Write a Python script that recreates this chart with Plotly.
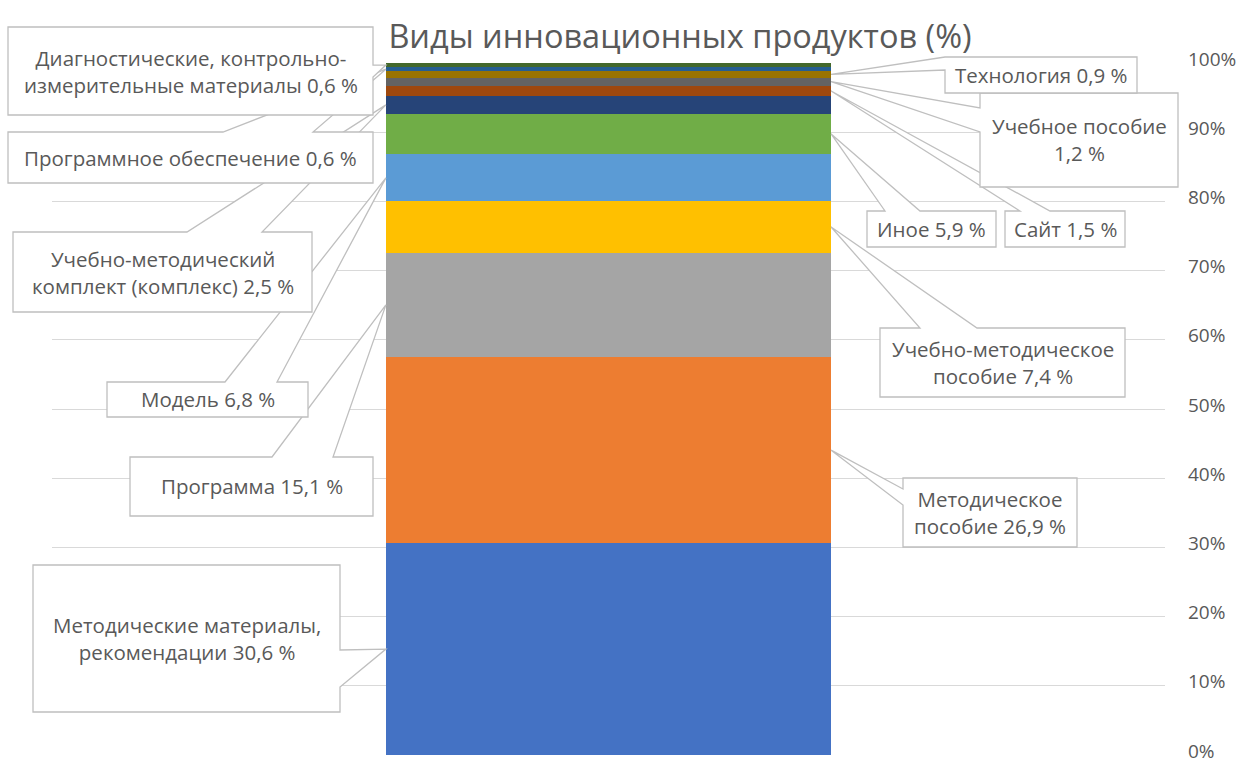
import plotly.graph_objects as go

# ---------------- data ----------------
CATEGORY = ["Виды инновационных продуктов"]
NAMES = [
    "Методические материалы, рекомендации",
    "Методическое пособие",
    "Программа",
    "Учебно-методическое пособие",
    "Модель",
    "Иное",
    "Учебно-методический комплект (комплекс)",
    "Сайт",
    "Учебное пособие",
    "Технология",
    "Программное обеспечение",
    "Диагностические, контрольно-измерительные материалы",
]
VALUES = [30.6, 26.9, 15.1, 7.4, 6.8, 5.9, 2.5, 1.5, 1.2, 0.9, 0.6, 0.6]
COLORS = ["#4472C4", "#ED7D31", "#A5A5A5", "#FFC000", "#5B9BD5", "#70AD47",
          "#264478", "#9E480E", "#636363", "#997300", "#255E91", "#43682B"]
LABEL_FORMATS = [
    "Методические материалы,<br>рекомендации {v}",
    "Методическое<br>пособие {v}",
    "Программа {v}",
    "Учебно-методическое<br>пособие {v}",
    "Модель {v}",
    "Иное {v}",
    "Учебно-методический<br>комплект (комплекс) {v}",
    "Сайт {v}",
    "Учебное пособие<br>{v}",
    "Технология {v}",
    "Программное обеспечение {v}",
    "Диагностические, контрольно-<br>измерительные материалы {v}",
]
TICK_VALS = [0, 10, 20, 30, 40, 50, 60, 70, 80, 90, 100]
TICK_TEXT = [f"{t}%" for t in TICK_VALS]
TITLE = "Виды инновационных продуктов (%)"

# ---------------- layout geometry (pixels) ----------------
W, H = 1245, 764
PL, PR, PT, PB = 52, 1165, 63, 755
BAR_W = 0.4
FONT = "Open Sans"
TXT = "#595959"
BORDER = "#BFBFBF"

# callout boxes: (x0, y0, x1, y1), edge carrying the wedge, base positions on that edge
CALLOUTS = [
    ((33, 565, 340, 712), "right", (650, 687)),
    ((903, 478, 1077, 547), "left", (489, 505)),
    ((130, 457, 373, 516), "top", (272, 333)),
    ((880, 328, 1125, 397), "top", (920, 977)),
    ((107, 382, 308, 417), "top", (225, 277)),
    ((867, 211, 996, 247), "top", (885, 920)),
    ((13, 232, 312, 312), "top", (187, 262)),
    ((1005, 211, 1125, 247), "top", (1020, 1050)),
    ((980, 93, 1178, 187), "left", (108, 132)),
    ((945, 57, 1137, 93), "left", (57, 70)),
    ((8, 132, 373, 183), "top", (223, 313)),
    ((8, 27, 373, 115), "right", (65, 77)),
]


def px(x, y):
    return ((x - PL) / (PR - PL), (PB - y) / (PB - PT))


def fmt(v):
    return f"{v:.1f}".replace(".", ",") + " %"


fig = go.Figure()
for name, val, col in zip(NAMES, VALUES, COLORS):
    fig.add_trace(go.Bar(x=CATEGORY, y=[val], name=name, marker=dict(color=col, line=dict(width=0)),
                         width=BAR_W, showlegend=False, hoverinfo="name+y"))

shapes = []
annotations = []
cum = 0.0
for i, val in enumerate(VALUES):
    mid = cum + val / 2.0
    cum += val
    (x0, y0, x1, y1), edge, (b0, b1) = CALLOUTS[i]
    box_cx = (x0 + x1) / 2
    bar_cx_px = PL + 0.5 * (PR - PL)
    tip_x = 0.5 - BAR_W / 2 if box_cx < bar_cx_px else 0.5 + BAR_W / 2
    tip_y = mid / 100.0
    tip = (tip_x, tip_y)

    pts = []
    pts.append(px(x0, y0))
    if edge == "top":
        pts += [px(b0, y0), tip, px(b1, y0)]
    pts.append(px(x1, y0))
    if edge == "right":
        pts += [px(x1, b0), tip, px(x1, b1)]
    pts.append(px(x1, y1))
    if edge == "bottom":
        pts += [px(b1, y1), tip, px(b0, y1)]
    pts.append(px(x0, y1))
    if edge == "left":
        pts += [px(x0, b1), tip, px(x0, b0)]
    path = "M " + " L ".join(f"{a:.5f},{b:.5f}" for a, b in pts) + " Z"
    shapes.append(dict(type="path", path=path, xref="paper", yref="paper",
                       fillcolor="white", line=dict(color=BORDER, width=1.3), layer="above"))
    cx, cy = px(box_cx, (y0 + y1) / 2)
    annotations.append(dict(text=LABEL_FORMATS[i].format(v=fmt(val)), x=cx, y=cy,
                            xref="paper", yref="paper", showarrow=False,
                            xanchor="center", yanchor="middle", align="center",
                            font=dict(family=FONT, size=20.5, color=TXT)))

fig.update_layout(
    barmode="stack",
    width=W, height=H,
    margin=dict(l=PL, r=W - PR, t=PT, b=H - PB, autoexpand=False),
    paper_bgcolor="white", plot_bgcolor="white",
    title=dict(text=TITLE, x=680 / W, xref="container", xanchor="center",
               y=1 - 37 / H, yref="container", yanchor="middle",
               font=dict(family=FONT, size=32.5, color=TXT)),
    xaxis=dict(type="category", range=[-0.5, 0.5], showticklabels=False, showgrid=False,
               zeroline=False, showline=False, ticks="", automargin=False),
    yaxis=dict(range=[0, 100], side="right", tickvals=TICK_VALS, ticktext=TICK_TEXT,
               showgrid=True, gridcolor="#D9D9D9", gridwidth=1.3, zeroline=False, showline=False,
               ticks="", ticklabelstandoff=22, ticklabelshift=-4, automargin=False,
               ticklabeloverflow="allow",
               tickfont=dict(family=FONT, size=19, color=TXT)),
    shapes=shapes,
    annotations=annotations,
    bargap=0,
)

fig.write_html("out.html", config={"displayModeBar": False},
               post_script="document.body.style.margin='0';document.body.style.overflow='hidden';")
